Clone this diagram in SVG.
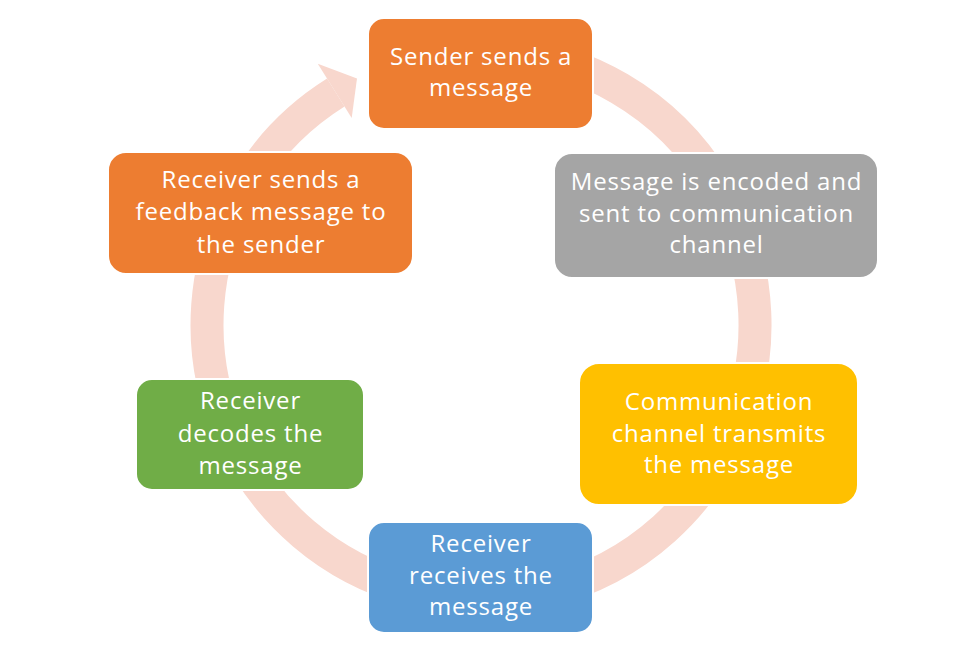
<svg xmlns="http://www.w3.org/2000/svg" width="980" height="653" viewBox="0 0 980 653">
<style>
.box{stroke:#fff;stroke-width:2}
.t{font-family:"Open Sans","Noto Sans","Liberation Sans",sans-serif;font-size:24px;letter-spacing:0.8px;fill:#fff;text-anchor:middle}
.ring{fill:none;stroke:#F8D7CD;stroke-width:33}
</style>
<rect width="980" height="653" fill="#fff"/>
<g id="connectors">
<path class="ring" d="M505,52 A274,274 0 1 1 335.8,92.6"/>
<polygon points="317.8,63.8 357,78.4 351.7,118.1" fill="#F8D7CD"/>
</g>
<g id="n1">
<rect class="box" x="368" y="18" width="225" height="111" rx="16" fill="#ED7D31"/>
<text class="t" x="481" y="65">Sender sends a</text>
<text class="t" x="481" y="96">message</text>
</g>
<g id="n2">
<rect class="box" x="554" y="153" width="324" height="125" rx="18" fill="#A5A5A5"/>
<text class="t" x="716.5" y="190">Message is encoded and</text>
<text class="t" x="716.5" y="222">sent to communication</text>
<text class="t" x="716.5" y="253">channel</text>
</g>
<g id="n3">
<rect class="box" x="579" y="363" width="279" height="142" rx="20" fill="#FFC000"/>
<text class="t" x="719" y="410">Communication</text>
<text class="t" x="719" y="442">channel transmits</text>
<text class="t" x="719" y="473">the message</text>
</g>
<g id="n4">
<rect class="box" x="368" y="522" width="225" height="111" rx="16" fill="#5B9BD5"/>
<text class="t" x="481" y="552">Receiver</text>
<text class="t" x="481" y="584">receives the</text>
<text class="t" x="481" y="615">message</text>
</g>
<g id="n5">
<rect class="box" x="136" y="379" width="228" height="111" rx="16" fill="#70AD47"/>
<text class="t" x="250.5" y="409">Receiver</text>
<text class="t" x="250.5" y="442">decodes the</text>
<text class="t" x="250.5" y="474">message</text>
</g>
<g id="n6">
<rect class="box" x="108" y="152" width="305" height="122" rx="18" fill="#ED7D31"/>
<text class="t" x="261" y="188">Receiver sends a</text>
<text class="t" x="261" y="220">feedback message to</text>
<text class="t" x="261" y="253">the sender</text>
</g>
</svg>
